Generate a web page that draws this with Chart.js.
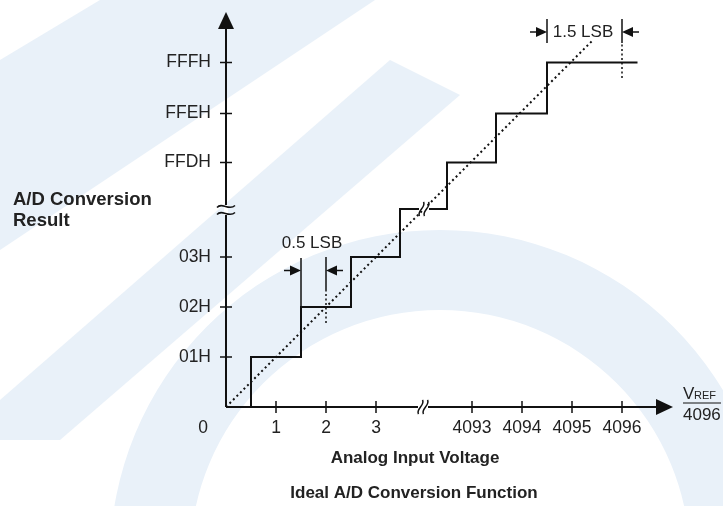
<!DOCTYPE html>
<html>
<head>
<meta charset="utf-8">
<script src="https://cdn.jsdelivr.net/npm/chart.js@4.4.0/dist/chart.umd.min.js"></script>
<style>
  html, body { margin: 0; padding: 0; background: #fff; }
  #wrap { position: relative; width: 723px; height: 506px; }
</style>
</head>
<body>
<div id="wrap"><canvas id="adcChart" width="723" height="506"></canvas></div>
<script>
// x in LSB units, y in code units; both axes are broken (3 -> 4093, 03H -> FFDH)
var xTickLabels = ['1', '2', '3', '4093', '4094', '4095', '4096'];
var xTickValues = [1, 2, 3, 4.92, 5.92, 6.92, 7.92];
var yTickLabels = ['01H', '02H', '03H', 'FFDH', 'FFEH', 'FFFH'];
var yTickValues = [1, 2, 3, 4.89, 5.87, 6.89];

// staircase (step happens at each x) and ideal transfer line
var stepX = [0, 0.5, 1.5, 2.5, 3.48, 4.42, 5.4, 6.42, 8.23];
var stepY = [0, 1, 2, 3, 3.96, 4.89, 5.87, 6.89, 6.89];
var idealX = [0, 7.35];
var idealY = [0, 7.35];

var xBreak = 3.94;
var yBreak = 3.94;

// dimension marks: 0.5 LSB and 1.5 LSB
var dimLabels = ['0.5 LSB', '1.5 LSB'];
var dimLeft = [1.5, 6.42];
var dimRight = [2, 7.92];
var dimLevel = [2.73, 7.5];
var solidBars = [[1.5, 1, 2.98], [2, 2.34, 3.0], [6.42, 7.28, 7.76], [7.92, 7.28, 7.76]];
var dottedBars = [[2, 1.68, 2.34], [7.92, 6.58, 7.28]];

function pts(xs, ys) {
  return xs.map(function (x, i) { return { x: x, y: ys[i] }; });
}

var ink = '#111';
var datasets = [
  { data: pts(stepX, stepY), showLine: true, stepped: 'before', borderColor: ink, borderWidth: 2, pointRadius: 0 },
  { data: pts(idealX, idealY), showLine: true, borderColor: ink, borderWidth: 2, borderDash: [2, 3], pointRadius: 0 }
];
solidBars.forEach(function (b) {
  datasets.push({ data: pts([b[0], b[0]], [b[1], b[2]]), showLine: true, borderColor: ink, borderWidth: 1.5, pointRadius: 0 });
});
dottedBars.forEach(function (b) {
  datasets.push({ data: pts([b[0], b[0]], [b[1], b[2]]), showLine: true, borderColor: ink, borderWidth: 1.5, borderDash: [2, 2.5], pointRadius: 0 });
});

var font = '"Liberation Sans", Arial, sans-serif';

// faint watermark behind everything
var backdrop = {
  id: 'backdrop',
  beforeDraw: function (chart) {
    var c = chart.ctx;
    c.save();
    c.fillStyle = '#fff';
    c.fillRect(0, 0, chart.width, chart.height);
    c.fillStyle = '#e9f1f9';
    c.beginPath();
    c.arc(440, 560, 330, 0, Math.PI * 2);
    c.arc(440, 560, 250, 0, Math.PI * 2, true);
    c.fill();
    c.beginPath();
    c.moveTo(0, 60); c.lineTo(100, 0); c.lineTo(375, 0); c.lineTo(0, 250);
    c.closePath(); c.fill();
    c.beginPath();
    c.moveTo(390, 60); c.lineTo(460, 95); c.lineTo(60, 440); c.lineTo(0, 440); c.lineTo(0, 400);
    c.closePath(); c.fill();
    c.restore();
  }
};

function sCurve(c, x, y, h) {
  c.beginPath();
  c.moveTo(x - 2, y + h);
  c.bezierCurveTo(x - 5, y + 2, x + 5, y - 2, x + 2, y - h);
  c.stroke();
}

// axes, ticks, labels, break marks, dimension arrows
var axesPlugin = {
  id: 'axesPlugin',
  afterDatasetsDraw: function (chart) {
    var c = chart.ctx, sx = chart.scales.x, sy = chart.scales.y;
    var X = function (v) { return sx.getPixelForValue(v); };
    var Y = function (v) { return sy.getPixelForValue(v); };
    var x0 = X(0), y0 = Y(0), xr = chart.chartArea.right, yt = chart.chartArea.top;
    c.save();
    c.strokeStyle = ink; c.fillStyle = ink; c.lineWidth = 2;
    // axis lines + arrow heads
    c.beginPath(); c.moveTo(x0, y0); c.lineTo(xr - 12, y0); c.stroke();
    c.beginPath(); c.moveTo(xr, y0); c.lineTo(xr - 17, y0 - 8); c.lineTo(xr - 17, y0 + 8); c.closePath(); c.fill();
    c.beginPath(); c.moveTo(x0, y0); c.lineTo(x0, yt + 12); c.stroke();
    c.beginPath(); c.moveTo(x0, yt); c.lineTo(x0 - 8, yt + 17); c.lineTo(x0 + 8, yt + 17); c.closePath(); c.fill();
    // ticks
    c.lineWidth = 1.5;
    xTickValues.forEach(function (v) { c.beginPath(); c.moveTo(X(v), y0 - 6); c.lineTo(X(v), y0 + 6); c.stroke(); });
    yTickValues.forEach(function (v) { c.beginPath(); c.moveTo(x0 - 6, Y(v)); c.lineTo(x0 + 6, Y(v)); c.stroke(); });
    // tick labels
    c.fillStyle = '#222';
    c.font = '17.5px ' + font;
    c.textAlign = 'center'; c.textBaseline = 'top';
    xTickLabels.forEach(function (t, i) { c.fillText(t, X(xTickValues[i]), y0 + 12); });
    c.fillText('0', x0 - 23, y0 + 12);
    c.textAlign = 'right'; c.textBaseline = 'middle';
    yTickLabels.forEach(function (t, i) { c.fillText(t, x0 - 15, Y(yTickValues[i])); });
    // break marks
    c.strokeStyle = ink; c.lineWidth = 1.5;
    var bx = X(xBreak);
    c.fillStyle = '#fff'; c.fillRect(bx - 5, y0 - 2, 10, 4);
    sCurve(c, bx - 2.5, y0, 7); sCurve(c, bx + 2.5, y0, 7);
    var by = Y(yBreak);
    c.fillRect(x0 - 2, by - 5, 4, 10);
    [-3.5, 3.5].forEach(function (d) {
      c.beginPath(); c.moveTo(x0 - 9, by + d + 1);
      c.bezierCurveTo(x0 - 4, by + d - 5, x0 + 3, by + d + 5, x0 + 9, by + d - 1); c.stroke();
    });
    var sbx = X(stepX[4] + 0.48), sby = Y(stepY[4]);
    c.fillRect(sbx - 5, sby - 2, 10, 4);
    sCurve(c, sbx - 2.5, sby, 7); sCurve(c, sbx + 2.5, sby, 7);
    // dimension arrows and text
    c.fillStyle = ink; c.lineWidth = 1.5;
    dimLabels.forEach(function (t, i) {
      var yy = Y(dimLevel[i]), l = X(dimLeft[i]), r = X(dimRight[i]);
      c.beginPath(); c.moveTo(l - 17, yy); c.lineTo(l - 10, yy); c.stroke();
      c.beginPath(); c.moveTo(l, yy); c.lineTo(l - 11, yy - 5); c.lineTo(l - 11, yy + 5); c.closePath(); c.fill();
      c.beginPath(); c.moveTo(r + 17, yy); c.lineTo(r + 10, yy); c.stroke();
      c.beginPath(); c.moveTo(r, yy); c.lineTo(r + 11, yy - 5); c.lineTo(r + 11, yy + 5); c.closePath(); c.fill();
    });
    c.fillStyle = '#222'; c.font = '17px ' + font; c.textAlign = 'center'; c.textBaseline = 'middle';
    c.fillText(dimLabels[0], X(1.72), Y(3.28));
    c.fillText(dimLabels[1], X(7.14), Y(7.5));
    // V_REF / 4096 unit
    c.textAlign = 'left'; c.textBaseline = 'alphabetic';
    c.font = '17px ' + font; c.fillText('V', 683, 399);
    c.font = '11px ' + font; c.fillText('REF', 694, 399);
    c.font = '17px ' + font; c.fillText('4096', 683, 420);
    c.lineWidth = 1; c.beginPath(); c.moveTo(683, 403); c.lineTo(721, 403); c.stroke();
    // axis titles
    c.font = 'bold 18.5px ' + font;
    c.fillText('A/D Conversion', 13, 205);
    c.fillText('Result', 13, 226);
    c.font = 'bold 17px ' + font;
    c.textAlign = 'center';
    c.fillText('Analog Input Voltage', 415, 463);
    c.fillText('Ideal A/D Conversion Function', 414, 498);
    c.restore();
  }
};

new Chart(document.getElementById('adcChart'), {
  type: 'scatter',
  data: { datasets: datasets },
  options: {
    responsive: false,
    animation: false,
    layout: { padding: { left: 226, right: 50, top: 12, bottom: 99 } },
    plugins: { legend: { display: false }, tooltip: { enabled: false } },
    scales: {
      x: { type: 'linear', display: false, min: 0, max: 8.94 },
      y: { type: 'linear', display: false, min: 0, max: 7.9 }
    }
  },
  plugins: [backdrop, axesPlugin]
});
</script>
</body>
</html>
